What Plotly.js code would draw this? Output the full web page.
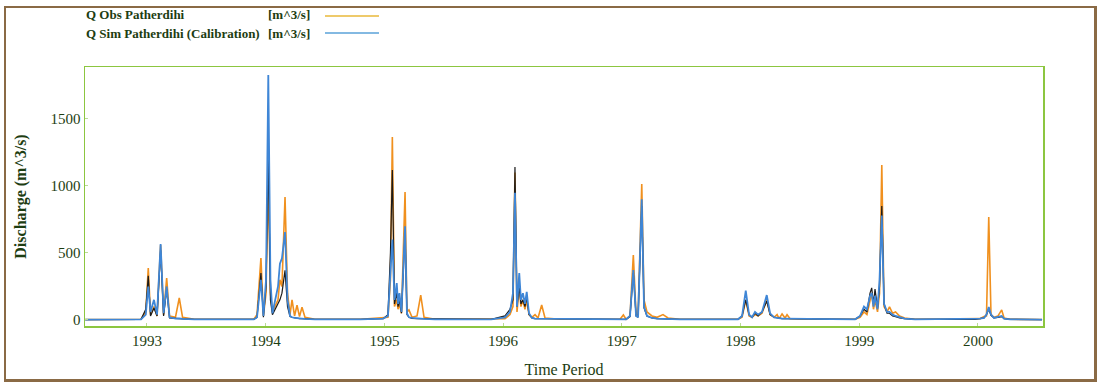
<!DOCTYPE html>
<html>
<head>
<meta charset="utf-8">
<script src="https://cdn.plot.ly/plotly-3.0.1.min.js"></script>
<style>
  html, body { margin: 0; padding: 0; background: #ffffff; }
  #frame { position: absolute; left: 4px; top: 6px; width: 1088px; height: 371px;
           border: 2px solid #8a6a45; border-right-width: 3px; border-bottom-width: 3px; pointer-events: none; z-index: 5; }
  #chart { width: 1101px; height: 387px; }
</style>
</head>
<body>
<div id="frame"></div>
<div id="chart"></div>
<script>
// Time in decimal years
const time = [
  1992.48, 1992.95, 1992.99, 1993.011, 1993.03, 1993.059, 1993.085, 1993.115, 1993.14, 1993.166, 1993.19, 1993.24, 1993.272, 1993.30, 1993.40, 1993.90,
  1993.927, 1993.960, 1993.981, 1994.003, 1994.022, 1994.040, 1994.057, 1994.078, 1994.104, 1994.120, 1994.137, 1994.163, 1994.184, 1994.205, 1994.222, 1994.243, 1994.264, 1994.285, 1994.306, 1994.331, 1994.415,
  1994.80, 1994.990, 1995.030, 1995.051, 1995.067, 1995.085, 1995.104, 1995.115, 1995.127, 1995.144, 1995.174, 1995.190, 1995.207, 1995.233, 1995.275, 1995.306, 1995.334, 1995.426,
  1995.90, 1996.016, 1996.058, 1996.083, 1996.100, 1996.117, 1996.136, 1996.150, 1996.167, 1996.184, 1996.199, 1996.218, 1996.243, 1996.269, 1996.294, 1996.325, 1996.353, 1996.479,
  1996.985, 1997.013, 1997.036, 1997.069, 1997.097, 1997.120, 1997.137, 1997.168, 1997.187, 1997.212, 1997.254, 1997.297, 1997.347, 1997.389, 1997.490,
  1997.979, 1998.013, 1998.044, 1998.072, 1998.097, 1998.122, 1998.148, 1998.181, 1998.221, 1998.249, 1998.283, 1998.308, 1998.325, 1998.350, 1998.375, 1998.392, 1998.417, 1998.501,
  1998.965, 1999.007, 1999.040, 1999.065, 1999.091, 1999.105, 1999.120, 1999.133, 1999.154, 1999.171, 1999.190, 1999.209, 1999.234, 1999.255, 1999.281, 1999.306, 1999.340, 1999.382, 1999.470,
  1999.976, 2000.018, 2000.051, 2000.072, 2000.091, 2000.110, 2000.135, 2000.169, 2000.200, 2000.220, 2000.270, 2000.540
];
// Q Obs Patherdihi [m^3/s]
const qObs = [
  3, 5, 60, 388, 40, 100, 30, 560, 40, 313, 30, 20, 164, 20, 5, 5,
  40, 462, 30, 200, 1060, 200, 60, 100, 150, 300, 250, 918, 200, 40, 150, 30, 110, 25, 95, 20, 5,
  5, 20, 20, 300, 1366, 100, 150, 80, 120, 50, 955, 60, 75, 20, 30, 186, 20, 5,
  5, 10, 40, 100, 1100, 60, 250, 100, 150, 80, 150, 40, 20, 40, 15, 112, 15, 5,
  5, 37, 5, 30, 485, 40, 30, 1015, 150, 60, 30, 20, 40, 15, 5,
  5, 20, 150, 30, 20, 40, 30, 50, 150, 40, 20, 40, 10, 45, 15, 40, 10, 5,
  5, 20, 60, 40, 150, 200, 80, 150, 60, 200, 1156, 100, 60, 97, 50, 60, 30, 15, 5,
  5, 10, 25, 30, 769, 40, 20, 30, 75, 15, 5, 3
];
// Q Sim Patherdihi (Calibration) [m^3/s]
const qSim = [
  2, 5, 40, 250, 60, 150, 40, 567, 50, 250, 20, 10, 12, 8, 5, 4,
  20, 300, 30, 300, 1828, 300, 50, 150, 250, 420, 460, 656, 150, 30, 20, 15, 15, 12, 10, 8, 5,
  5, 10, 30, 400, 600, 150, 275, 120, 200, 60, 700, 50, 20, 15, 10, 10, 8, 5,
  5, 20, 60, 200, 950, 100, 350, 150, 200, 120, 210, 50, 15, 10, 10, 10, 8, 5,
  5, 5, 5, 30, 373, 30, 20, 900, 100, 30, 15, 10, 8, 6, 5,
  5, 30, 219, 40, 20, 60, 40, 60, 186, 50, 20, 15, 10, 10, 10, 10, 8, 5,
  5, 30, 100, 80, 180, 200, 100, 180, 80, 300, 780, 120, 60, 60, 40, 30, 20, 10, 5,
  5, 10, 15, 40, 97, 40, 15, 25, 30, 10, 5, 3
];
// dark (black) trace visible in the picture
const qDark = [
  2, 5, 80, 330, 30, 90, 30, 520, 30, 230, 15, 10, 10, 8, 5, 4,
  20, 350, 20, 250, 1231, 150, 40, 80, 120, 150, 200, 370, 100, 25, 20, 15, 12, 10, 10, 8, 5,
  5, 10, 40, 500, 1120, 120, 200, 100, 150, 50, 650, 40, 20, 12, 10, 10, 8, 5,
  5, 30, 80, 150, 1142, 100, 250, 120, 150, 100, 170, 40, 15, 10, 10, 10, 8, 5,
  5, 5, 5, 25, 350, 30, 20, 850, 90, 30, 15, 10, 8, 6, 5,
  5, 30, 150, 40, 20, 50, 30, 60, 140, 40, 20, 15, 10, 10, 10, 10, 8, 5,
  5, 30, 80, 60, 200, 240, 120, 230, 90, 250, 850, 120, 50, 50, 30, 25, 15, 10, 5,
  5, 10, 15, 40, 80, 35, 15, 20, 25, 10, 5, 3
];
const yearTicks = [1993, 1994, 1995, 1996, 1997, 1998, 1999, 2000];
const yTicks = [0, 500, 1000, 1500];
const legendNames = ["Q Obs Patherdihi", "Q Sim Patherdihi (Calibration)"];
const legendUnits = ["[m^3/s]", "[m^3/s]"];

const cObs = "#f0901e", cSim = "#3f86d6", cDark = "#1b1b1b";
const textCol = "#1d3d12";

const traces = [
  {x: time, y: qObs, type: "scatter", mode: "lines", name: legendNames[0], line: {color: cObs, width: 1.6}},
  {x: time, y: qDark, type: "scatter", mode: "lines", name: "dark", showlegend: false, line: {color: cDark, width: 1.2}},
  {x: time, y: qSim, type: "scatter", mode: "lines", name: legendNames[1], line: {color: cSim, width: 1.8}}
];

function px2x(p) { return (p - 85) / 958; }
function py2y(p) { return (326 - p) / 259; }

const serif = "Liberation Serif, Times New Roman, serif";
const layout = {
  width: 1101, height: 387,
  margin: {l: 85, r: 58, t: 67, b: 61},
  paper_bgcolor: "#ffffff", plot_bgcolor: "#ffffff",
  showlegend: false,
  font: {family: serif, color: textCol, size: 13},
  xaxis: {
    range: [1992.478, 2000.548], tickvals: yearTicks, ticktext: yearTicks.map(String),
    showgrid: false, zeroline: false, showline: true, mirror: true, linecolor: "#8cc640", linewidth: 1.5,
    ticks: "inside", ticklen: 3, tickcolor: "#b9dc95",
    tickfont: {family: serif, size: 15, color: textCol},
    title: {text: "Time Period", font: {family: serif, size: 16, color: textCol}, standoff: 16}
  },
  yaxis: {
    range: [-45, 1888], tickvals: yTicks, ticktext: yTicks.map(String),
    showgrid: false, zeroline: false, showline: true, mirror: true, linecolor: "#8cc640", linewidth: 1.5,
    ticks: "inside", ticklen: 3, tickcolor: "#b9dc95",
    tickfont: {family: serif, size: 15, color: textCol},
    title: {text: "<b>Discharge (m^3/s)</b>", font: {family: serif, size: 16, color: textCol}, standoff: 20}
  },
  annotations: [
    {xref: "paper", yref: "paper", x: px2x(84), y: py2y(15), xanchor: "left", yanchor: "middle", showarrow: false,
     text: "<b>" + legendNames[0] + "</b>", font: {size: 13, color: textCol}},
    {xref: "paper", yref: "paper", x: px2x(84), y: py2y(33), xanchor: "left", yanchor: "middle", showarrow: false,
     text: "<b>" + legendNames[1] + "</b>", font: {size: 13, color: textCol}},
    {xref: "paper", yref: "paper", x: px2x(266), y: py2y(15), xanchor: "left", yanchor: "middle", showarrow: false,
     text: "<b>" + legendUnits[0] + "</b>", font: {size: 13, color: textCol}},
    {xref: "paper", yref: "paper", x: px2x(266), y: py2y(33), xanchor: "left", yanchor: "middle", showarrow: false,
     text: "<b>" + legendUnits[1] + "</b>", font: {size: 13, color: textCol}}
  ],
  shapes: [
    {type: "line", xref: "paper", yref: "paper", x0: px2x(325), x1: px2x(379), y0: py2y(16), y1: py2y(16), line: {color: "#e9b93a", width: 1.5}},
    {type: "line", xref: "paper", yref: "paper", x0: px2x(325), x1: px2x(379), y0: py2y(33), y1: py2y(33), line: {color: "#5aa2d8", width: 1.5}}
  ]
};

Plotly.newPlot("chart", traces, layout, {displayModeBar: false, staticPlot: true});
</script>
</body>
</html>
